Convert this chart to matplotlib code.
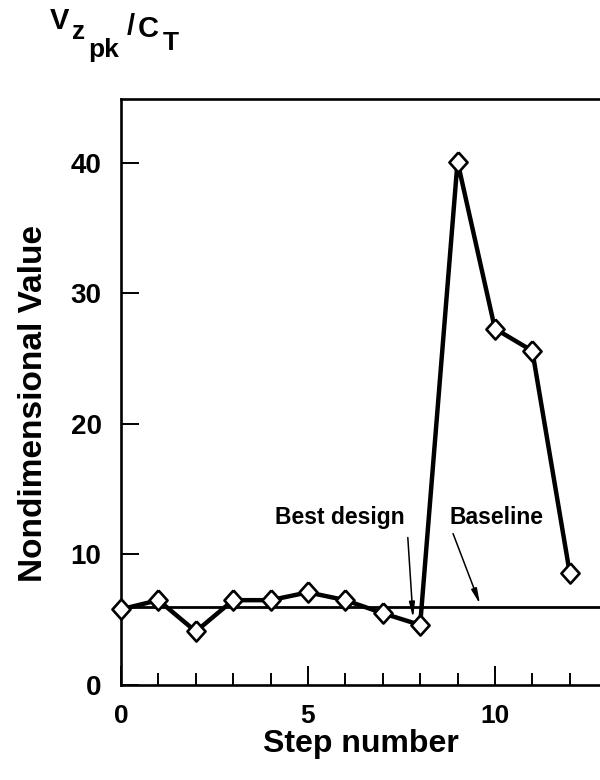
import matplotlib
matplotlib.use("Agg")
import matplotlib.pyplot as plt
from matplotlib.ticker import FixedLocator


STEPS = list(range(13))
VZPK_CT = [5.8, 6.5, 4.1, 6.5, 6.5, 7.1, 6.5, 5.5, 4.6, 40.1, 27.3, 25.6, 8.6]
BASELINE = 6.0
BEST_STEP = 8
Y_TICKS = [0, 10, 20, 30, 40]
X_MAJOR = [0, 5, 10]
X_MINOR = [1, 2, 3, 4, 6, 7, 8, 9, 11, 12]

# title pieces: V_{z_{pk}}/C_T written out piece by piece (x px, baseline px, size)
TITLE_PARTS = [
    ("V", 50, 29, 21),
    ("z", 72, 39, 19),
    ("pk", 88, 57, 19),
    ("/", 127, 35, 21),
    ("C", 138, 37, 21),
    ("T", 163, 50, 19),
]

plt.rcParams.update(
    {
        "font.family": ["Liberation Sans", "DejaVu Sans"],
        "font.weight": "bold",
    }
)

fig = plt.figure(figsize=(6.0, 7.8), dpi=100)
ax = fig.add_axes([121 / 600, 95 / 780, 479 / 600, 586 / 780])

# open diamond, a bit taller than wide
diamond = [(0, 1), (0.9, 0), (0, -1), (-0.9, 0), (0, 1)]

ax.axhline(BASELINE, color="black", linewidth=2.0, zorder=2)
ax.plot(
    STEPS,
    VZPK_CT,
    color="black",
    linewidth=3.2,
    marker=diamond,
    markersize=14.5,
    markerfacecolor="white",
    markeredgecolor="black",
    markeredgewidth=1.9,
    zorder=3,
    clip_on=False,
)

arrow = dict(arrowstyle="-|>,head_length=0.9,head_width=0.17", color="black",
             linewidth=1.1, shrinkA=0, shrinkB=0)
ax.annotate("", xy=(BEST_STEP - 0.19, VZPK_CT[BEST_STEP] + 0.55),
            xytext=(BEST_STEP - 0.33, 11.3), arrowprops=arrow, zorder=4)
ax.annotate("", xy=(9.6, BASELINE + 0.2), xytext=(8.88, 11.6),
            arrowprops=arrow, zorder=4)
ax.text(5.84, 12.8, "Best design", ha="center", va="center", fontsize=16.5, fontweight="bold")
ax.text(10.03, 12.8, "Baseline", ha="center", va="center", fontsize=16.5, fontweight="bold")

ax.set_xlim(0, 12.81)
ax.set_ylim(0, 44.9)
ax.xaxis.set_major_locator(FixedLocator(X_MAJOR))
ax.xaxis.set_minor_locator(FixedLocator(X_MINOR))
ax.yaxis.set_major_locator(FixedLocator(Y_TICKS))
ax.tick_params(axis="x", which="major", direction="in", length=13.5, width=1.4,
               pad=14, labelsize=19)
ax.tick_params(axis="x", which="minor", direction="in", length=9, width=1.4)
ax.tick_params(axis="y", which="major", direction="in", length=13, width=1.4,
               pad=14, labelsize=20)
for lab in ax.get_xticklabels() + ax.get_yticklabels():
    lab.set_fontweight("bold")

ax.spines["right"].set_visible(False)
for side in ("left", "bottom", "top"):
    ax.spines[side].set_linewidth(1.9)

ax.set_xlabel("Step number", fontsize=23, fontweight="bold")
ax.xaxis.set_label_coords(0.5, -0.075)
ax.set_ylabel("Nondimensional Value", fontsize=24, fontweight="bold")
ax.yaxis.set_label_coords(-0.15, 0.48)

for text, x, y, size in TITLE_PARTS:
    fig.text(x / 600, 1 - y / 780, text, fontsize=size, fontweight="bold",
             ha="left", va="baseline")

fig.savefig("out.png", dpi=100)
